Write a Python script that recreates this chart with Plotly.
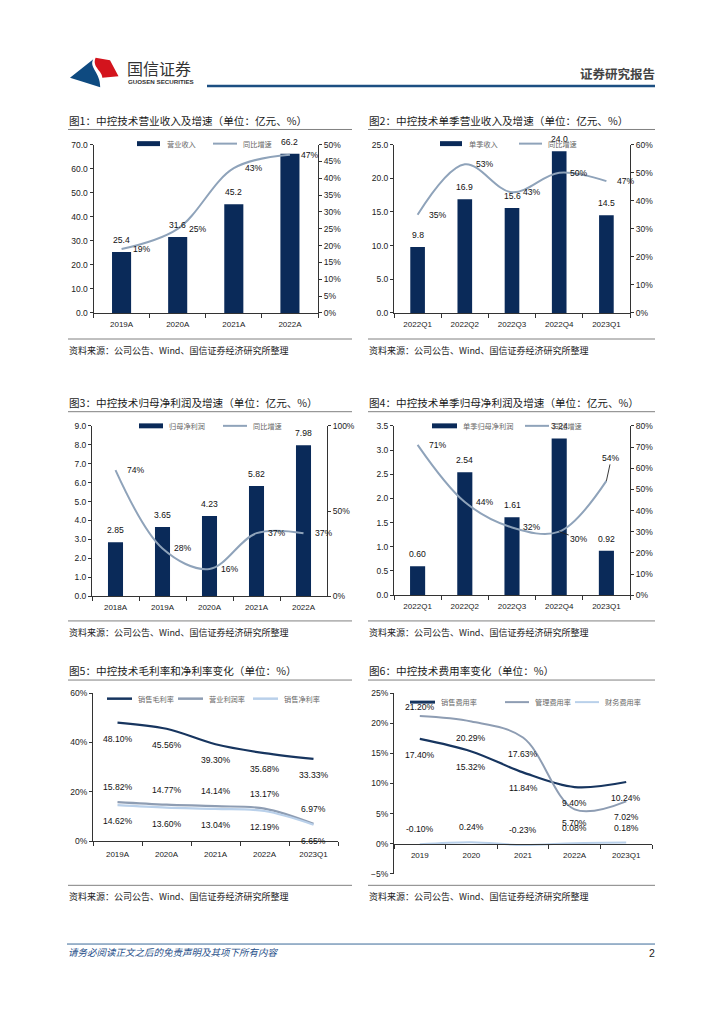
import plotly.graph_objects as go

W, H = 724, 1024


def px(x):
    return x / W


def py(y):
    return 1 - y / H


# ---------------- data ----------------
c1_years = ["2019A", "2020A", "2021A", "2022A"]
c1_revenue = [25.4, 31.6, 45.2, 66.2]
c1_growth = [19, 25, 43, 47]

c2_quarters = ["2022Q1", "2022Q2", "2022Q3", "2022Q4", "2023Q1"]
c2_revenue = [9.8, 16.9, 15.6, 24.0, 14.5]
c2_growth = [35, 53, 43, 50, 47]

c3_years = ["2018A", "2019A", "2020A", "2021A", "2022A"]
c3_profit = [2.85, 3.65, 4.23, 5.82, 7.98]
c3_growth = [74, 28, 16, 37, 37]

c4_quarters = ["2022Q1", "2022Q2", "2022Q3", "2022Q4", "2023Q1"]
c4_profit = [0.60, 2.54, 1.61, 3.24, 0.92]
c4_growth = [71, 44, 32, 30, 54]

c5_periods = ["2019A", "2020A", "2021A", "2022A", "2023Q1"]
c5_gross = [48.10, 45.56, 39.30, 35.68, 33.33]
c5_operating = [15.82, 14.77, 14.14, 13.17, 6.97]
c5_net = [14.62, 13.60, 13.04, 12.19, 6.65]

c6_periods = ["2019", "2020", "2021", "2022A", "2023Q1"]
c6_selling = [17.40, 15.32, 11.84, 9.40, 10.24]
c6_admin = [21.20, 20.29, 17.63, 5.70, 7.02]
c6_finance = [-0.10, 0.24, -0.23, 0.08, 0.18]

titles = [
    "图1：中控技术营业收入及增速（单位：亿元、%）",
    "图2：中控技术单季营业收入及增速（单位：亿元、%）",
    "图3：中控技术归母净利润及增速（单位：亿元、%）",
    "图4：中控技术单季归母净利润及增速（单位：亿元、%）",
    "图5：中控技术毛利率和净利率变化（单位：%）",
    "图6：中控技术费用率变化（单位：%）",
]
source_text = "资料来源：公司公告、Wind、国信证券经济研究所整理"

# ---------------- styles ----------------
NAVY = "#0a2a59"
LINE_GREY = "#8fa3ba"
DARK_LINE = "#17355f"
MID_LINE = "#8e9db3"
LIGHT_LINE = "#b9d0ea"
CJK = "Noto Sans CJK SC"
LAT = "Liberation Sans"
lab_font = dict(family=LAT, size=8.6, color="#111")
tick_font = dict(family=LAT, size=8.5, color="#222")
xtick_font = dict(family=LAT, size=8, color="#222")
leg_font = dict(family=CJK, size=7.2, color="#666")

fig = go.Figure()
layout = dict(width=W, height=H, margin=dict(l=0, r=0, t=0, b=0),
              paper_bgcolor="white", plot_bgcolor="rgba(0,0,0,0)",
              showlegend=False)
shapes = []
annotations = []


def xr(i):
    return "x" if i == 1 else f"x{i}"


def yr(i):
    return "y" if i == 1 else f"y{i}"


def xk(i):
    return "xaxis" if i == 1 else f"xaxis{i}"


def yk(i):
    return "yaxis" if i == 1 else f"yaxis{i}"


def base_axis():
    return dict(showline=True, linecolor="#333", linewidth=1, ticks="outside",
                ticklen=3, tickcolor="#333", showgrid=False, zeroline=False,
                tickfont=tick_font)


def x_axis(i, dom, cats, position=None, standoff=2):
    a = base_axis()
    a.update(domain=[px(dom[0]), px(dom[1])], type="category",
             categoryorder="array", categoryarray=cats,
             range=[-0.5, len(cats) - 0.5], autorange=False,
             tickson="boundaries", ticklen=4, tickfont=xtick_font,
             ticklabelstandoff=standoff)
    if position is None:
        a["anchor"] = yr(i)
    else:
        a["anchor"] = "free"
        a["position"] = position
    return a


def legend_bar(x0, x1, y):
    shapes.append(dict(type="rect", xref="paper", yref="paper",
                       x0=px(x0), x1=px(x1), y0=py(y + 2.5), y1=py(y - 2.5),
                       fillcolor=NAVY, line=dict(width=0)))


def legend_line(x0, x1, y, color, width=2):
    shapes.append(dict(type="line", xref="paper", yref="paper",
                       x0=px(x0), x1=px(x1), y0=py(y), y1=py(y),
                       line=dict(color=color, width=width)))


def legend_text(x, y, text):
    annotations.append(dict(xref="paper", yref="paper", x=px(x), y=py(y),
                            text=text, showarrow=False, xanchor="left",
                            yanchor="middle", font=leg_font))


def frame(col_x0, col_x1, title, y_title, y_top_line, y_bot_line, y_src):
    annotations.append(dict(xref="paper", yref="paper", x=px(col_x0 - 1), y=py(y_title),
                            text=title, showarrow=False, xanchor="left",
                            yanchor="middle",
                            font=dict(family=CJK, size=10.6, color="#1a1a1a")))
    for yy in (y_top_line, y_bot_line):
        shapes.append(dict(type="line", xref="paper", yref="paper",
                           x0=px(col_x0), x1=px(col_x1), y0=py(yy), y1=py(yy),
                           line=dict(color="#808080", width=1)))
    annotations.append(dict(xref="paper", yref="paper", x=px(col_x0 - 1), y=py(y_src),
                            text=source_text, showarrow=False, xanchor="left",
                            yanchor="middle",
                            font=dict(family=CJK, size=9, color="#222")))


# ---------------- combo charts (1-4) ----------------
combos = [
    dict(i=1, cats=c1_years, bars=c1_revenue, growth=c1_growth,
         dom=(93.5, 318, 141, 311), yl=[0, 70], dl=10, fmt="{:.1f}",
         yrng=[0, 50], dr=5, bw=0.34,
         leg=((137, 160, 165, "营业收入"), (213, 237, 241, "同比增速")), legy=140),
    dict(i=2, cats=c2_quarters, bars=c2_revenue, growth=c2_growth,
         dom=(394, 630, 141, 311), yl=[0, 25], dl=5, fmt="{:.1f}",
         yrng=[0, 60], dr=10, bw=0.31,
         leg=((440, 462, 467, "单季收入"), (519, 542, 546, "同比增速")), legy=140),
    dict(i=3, cats=c3_years, bars=c3_profit, growth=c3_growth,
         dom=(92, 327, 425, 597), yl=[0, 9], dl=1, fmt="{:.2f}",
         yrng=[0, 100], dr=50, bw=0.32,
         leg=((139, 163, 167, "归母净利润"), (223, 247, 251, "同比增速")), legy=425),
    dict(i=4, cats=c4_quarters, bars=c4_profit, growth=c4_growth,
         dom=(394, 630, 425, 596), yl=[0, 3.5], dl=0.5, fmt="{:.2f}",
         yrng=[0, 80], dr=10, bw=0.32,
         leg=((432, 457, 461, "单季归母净利润"), (525, 549, 551, "同比增速")), legy=425),
]

for c in combos:
    i = c["i"]
    j = i + 6
    x0, x1, yt, yb = c["dom"]
    fig.add_trace(go.Bar(x=c["cats"], y=c["bars"], width=c["bw"],
                         marker=dict(color=NAVY, line=dict(width=0)),
                         xaxis=xr(i), yaxis=yr(i), hoverinfo="skip"))
    fig.add_trace(go.Scatter(x=c["cats"], y=c["growth"], mode="lines",
                             line=dict(color=LINE_GREY, width=2, shape="spline",
                                       smoothing=1.0),
                             xaxis=xr(i), yaxis=yr(j), hoverinfo="skip"))
    layout[xk(i)] = x_axis(i, (x0, x1), c["cats"], standoff=3)
    ya = base_axis()
    ya.update(domain=[py(yb), py(yt)], range=c["yl"], dtick=c["dl"],
              tickformat=".1f", anchor=xr(i))
    layout[yk(i)] = ya
    y2 = base_axis()
    y2.update(domain=[py(yb), py(yt)], range=c["yrng"], dtick=c["dr"],
              ticksuffix="%", tickformat="d", overlaying=yr(i), side="right",
              anchor=xr(i))
    layout[yk(j)] = y2
    for k, v in enumerate(c["bars"]):
        annotations.append(dict(x=k, y=v, xref=xr(i), yref=yr(i),
                                text=c["fmt"].format(v), showarrow=False,
                                yshift=12, font=lab_font))
    for k, g in enumerate(c["growth"]):
        if i == 4 and k == 3:
            annotations.append(dict(x=k, y=g, xref=xr(i), yref=yr(j),
                                    text=f"{g:.0f}%", showarrow=True, arrowhead=0,
                                    arrowwidth=0.9, arrowcolor="#222", ax=20, ay=7,
                                    standoff=0, font=lab_font))
        elif i == 4 and k == 4:
            annotations.append(dict(x=k, y=g, xref=xr(i), yref=yr(j),
                                    text=f"{g:.0f}%", showarrow=True, arrowhead=0,
                                    arrowwidth=0.9, arrowcolor="#222", ax=5, ay=-23,
                                    standoff=0, font=lab_font))
        else:
            annotations.append(dict(x=k, y=g, xref=xr(i), yref=yr(j),
                                    text=f"{g:.0f}%", showarrow=False,
                                    xshift=20, font=lab_font))
    (b0, b1, bt, bl), (l0, l1, lt, ll) = c["leg"]
    legend_bar(b0, b1, c["legy"])
    legend_text(bt, c["legy"], bl)
    legend_line(l0, l1, c["legy"], LINE_GREY, 2)
    legend_text(lt, c["legy"], ll)

# ---------------- chart 5 ----------------
i = 5
c5_series = [
    (c5_gross, DARK_LINE, 2.2, -16),
    (c5_operating, MID_LINE, 2.2, 15),
    (c5_net, LIGHT_LINE, 2.2, -16),
]
for vals, color, wdt, shift in c5_series:
    fig.add_trace(go.Scatter(x=c5_periods, y=vals, mode="lines",
                             line=dict(color=color, width=wdt, shape="spline"),
                             xaxis=xr(i), yaxis=yr(i), hoverinfo="skip"))
    for k, v in enumerate(vals):
        annotations.append(dict(x=k, y=v, xref=xr(i), yref=yr(i),
                                text=f"{v:.2f}%", showarrow=False, yshift=shift,
                                font=lab_font))
layout[xk(i)] = x_axis(i, (93, 338), c5_periods, standoff=5)
ya = base_axis()
ya.update(domain=[py(844.3), py(695)], range=[0, 60], dtick=20, ticksuffix="%",
          tickformat="d", anchor=xr(i))
layout[yk(i)] = ya
legend_line(107, 132, 700.5, DARK_LINE, 2.5)
legend_text(136, 700.5, "销售毛利率")
legend_line(178, 203, 700.5, MID_LINE, 2.5)
legend_text(207, 700.5, "营业利润率")
legend_line(253, 278, 700.5, LIGHT_LINE, 2.5)
legend_text(282, 700.5, "销售净利率")

# ---------------- chart 6 ----------------
i = 6
admin_shift = [9, -16, -16, -14, -16]
c6_series = [
    (c6_selling, DARK_LINE, 2.2, [-16] * 5),
    (c6_admin, MID_LINE, 2.0, admin_shift),
    (c6_finance, LIGHT_LINE, 2.0, [15] * 5),
]
for vals, color, wdt, shifts in c6_series:
    fig.add_trace(go.Scatter(x=c6_periods, y=vals, mode="lines",
                             line=dict(color=color, width=wdt, shape="spline"),
                             xaxis=xr(i), yaxis=yr(i), hoverinfo="skip"))
    for k, (v, s) in enumerate(zip(vals, shifts)):
        annotations.append(dict(x=k, y=v, xref=xr(i), yref=yr(i),
                                text=f"{v:.2f}%", showarrow=False, yshift=s,
                                font=lab_font))
layout[xk(i)] = x_axis(i, (394, 652), c6_periods, position=py(846.8), standoff=4)
ya = base_axis()
ya.update(domain=[py(877.3), py(695)], range=[-5, 25], dtick=5, ticksuffix="%",
          tickformat="d", anchor=xr(i))
layout[yk(i)] = ya
legend_line(410, 435, 704, DARK_LINE, 3)
legend_text(439, 704, "销售费用率")
legend_line(505, 529, 704, MID_LINE, 2)
legend_text(533, 704, "管理费用率")
legend_line(575, 599, 704, LIGHT_LINE, 2)
legend_text(603, 704, "财务费用率")

# ---------------- frames ----------------
frame(68, 352, titles[0], 116.5, 125.7, 337.3, 348.5)
frame(368, 655, titles[1], 116.5, 125.7, 337.3, 348.5)
frame(68, 352, titles[2], 401, 410.7, 622, 633.5)
frame(368, 655, titles[3], 401, 410.7, 622, 633.5)
frame(68, 352, titles[4], 672.5, 681.7, 889, 900.5)
frame(368, 655, titles[5], 672, 681.7, 889, 900.5)


# ---------------- header ----------------
def path(points_cmds):
    out = []
    for cmd, pts in points_cmds:
        coords = " ".join(f"{px(x):.5f},{py(y):.5f}" for x, y in pts)
        out.append(f"{cmd} {coords}")
    return " ".join(out) + " Z"


blue_logo = path([("M", [(70, 73.5)]), ("L", [(93.3, 54.8)]),
                  ("C", [(88.5, 63), (100.5, 68), (100.2, 83)]),
                  ("L", [(86, 78.5)])])
red_logo = path([("M", [(95.6, 53.3)]), ("L", [(110, 55.8), (120.3, 61)]),
                 ("L", [(118.5, 72)]), ("L", [(102.3, 73.5)]),
                 ("C", [(102.8, 67), (91.5, 62.5), (95.6, 53.3)])])
shapes.append(dict(type="path", xref="paper", yref="paper", path=blue_logo,
                   fillcolor="#0e4a80", line=dict(width=0)))
shapes.append(dict(type="path", xref="paper", yref="paper", path=red_logo,
                   fillcolor="#d3141d", line=dict(width=0)))
annotations.append(dict(xref="paper", yref="paper", x=px(125), y=py(64),
                        text="国信证券", showarrow=False, xanchor="left",
                        yanchor="middle", font=dict(family=CJK, size=16, color="#333")))
annotations.append(dict(xref="paper", yref="paper", x=px(126), y=py(77),
                        text="<b>GUOSEN SECURITIES</b>", showarrow=False,
                        xanchor="left", yanchor="middle",
                        font=dict(family=LAT, size=6.2, color="#333")))
shapes.append(dict(type="line", xref="paper", yref="paper", x0=px(207), x1=px(655),
                   y0=py(81.7), y1=py(81.7), line=dict(color="#1c4f82", width=2.5)))
annotations.append(dict(xref="paper", yref="paper", x=px(657), y=py(69.5),
                        text="<b>证券研究报告</b>", showarrow=False, xanchor="right",
                        yanchor="middle", font=dict(family=CJK, size=12.5, color="#444")))

# ---------------- footer ----------------
shapes.append(dict(type="line", xref="paper", yref="paper", x0=px(67), x1=px(655),
                   y0=py(948.3), y1=py(948.3), line=dict(color="#3b6a98", width=1)))
annotations.append(dict(xref="paper", yref="paper", x=px(66), y=py(956.5),
                        text="<i>请务必阅读正文之后的免责声明及其项下所有内容</i>",
                        showarrow=False, xanchor="left", yanchor="middle",
                        font=dict(family=CJK, size=9.5, color="#1f4f8a")))
annotations.append(dict(xref="paper", yref="paper", x=px(657), y=py(957),
                        text="2", showarrow=False, xanchor="right", yanchor="middle",
                        font=dict(family=LAT, size=10.5, color="#222")))

layout["shapes"] = shapes
layout["annotations"] = annotations
fig.update_layout(**layout)
fig.write_html("out.html",
               config={"displayModeBar": False},
               post_script="document.body.style.margin='0';document.body.style.padding='0';")
